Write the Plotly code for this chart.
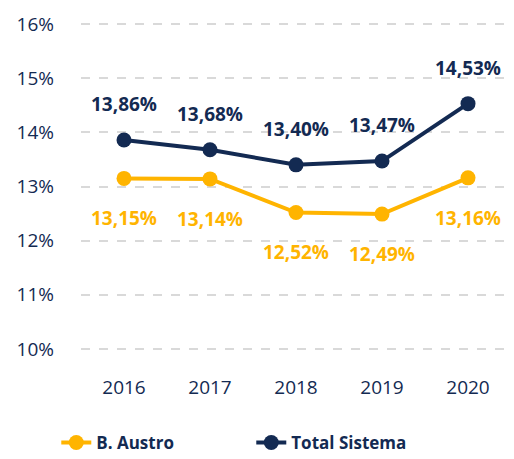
import plotly.graph_objects as go

years = ["2016", "2017", "2018", "2019", "2020"]
b_austro = [13.15, 13.14, 12.52, 12.49, 13.16]
total_sistema = [13.86, 13.68, 13.40, 13.47, 14.53]
y_ticks = [10, 11, 12, 13, 14, 15, 16]
y_tick_labels = ["10%", "11%", "12%", "13%", "14%", "15%", "16%"]

NAVY = "#132a52"
GOLD = "#ffb400"
FONT = "Open Sans"

def fmt(v):
    return f"{v:.2f}".replace(".", ",") + "%"

fig = go.Figure()
fig.add_trace(go.Scatter(x=years, y=b_austro, name="<b>B. Austro</b>", mode="lines+markers",
                         line=dict(color=GOLD, width=4), marker=dict(size=15, color=GOLD)))
fig.add_trace(go.Scatter(x=years, y=total_sistema, name="<b>Total Sistema</b>", mode="lines+markers",
                         line=dict(color=NAVY, width=4), marker=dict(size=15, color=NAVY)))

annotations = []
for i, v in enumerate(total_sistema):
    annotations.append(dict(x=i, y=v, xref="x", yref="y", text=f"<b>{fmt(v)}</b>", showarrow=False,
                            yshift=36, font=dict(size=19, color=NAVY, family=FONT)))
for i, v in enumerate(b_austro):
    annotations.append(dict(x=i, y=v, xref="x", yref="y", text=f"<b>{fmt(v)}</b>", showarrow=False,
                            yshift=-40, font=dict(size=19, color=GOLD, family=FONT)))

fig.update_layout(
    width=514, height=459,
    margin=dict(l=81, r=3, t=23, b=109, autoexpand=False),
    plot_bgcolor="white", paper_bgcolor="white",
    font=dict(family=FONT, color=NAVY, size=18),
    annotations=annotations,
    showlegend=True,
    legend=dict(orientation="h", x=0.396, xanchor="center", yref="container", y=0.035, yanchor="middle",
                font=dict(size=17, color=NAVY, family=FONT), entrywidth=150,
                bgcolor="rgba(0,0,0,0)"),
    xaxis=dict(type="category", range=[-0.5, 4.5], showgrid=False, zeroline=False, showline=False,
               ticks="", ticklabelstandoff=24, tickfont=dict(size=19, color=NAVY)),
    yaxis=dict(range=[9.98, 16.02], tickvals=y_ticks, ticktext=y_tick_labels, showgrid=True,
               gridcolor="#d9d9d9", griddash="dash", gridwidth=2, zeroline=False, showline=False,
               ticks="", ticklabelstandoff=26, tickfont=dict(size=19, color=NAVY)),
)
fig.write_html("out.html", config={"displayModeBar": False},
               post_script="document.body.style.margin='0';document.body.style.overflow='hidden';")
